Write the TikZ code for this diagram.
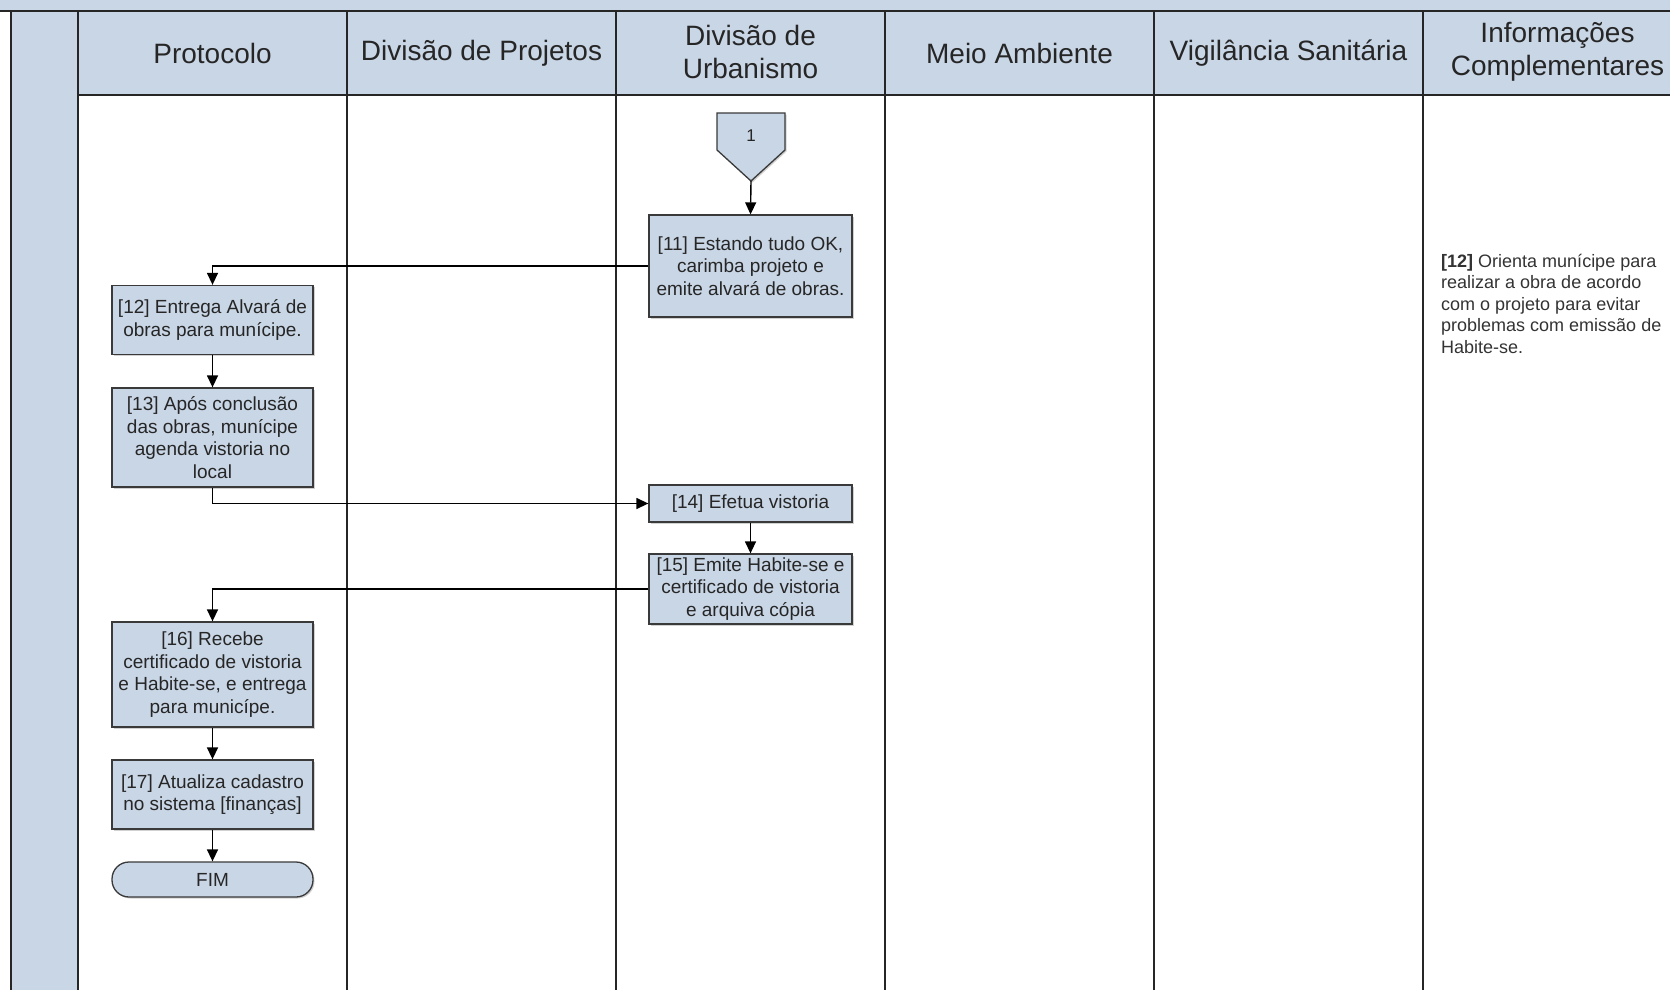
\documentclass[tikz,border=0pt]{standalone}
\usepackage{fontspec}
\setmainfont{Liberation Sans}
\usetikzlibrary{arrows.meta,shadows}
\definecolor{lanefill}{HTML}{C9D6E6}
\definecolor{boxline}{HTML}{3A3A3A}
\begin{document}
\begin{tikzpicture}[x=1pt,y=-1pt,
  laneline/.style={line width=1.6pt,black!85},
  hdr/.style={font=\fontsize{28}{33}\selectfont,align=center,inner sep=0pt,text=black!85},
  boxshadow/.style={drop shadow={shadow xshift=1.5pt,shadow yshift=-1.5pt,fill=black!30,opacity=0.6}},
  stepbox/.style={draw=boxline,fill=lanefill,line width=1.3pt,align=center,inner sep=0pt,
    font=\fontsize{19}{22.5}\selectfont,text=black!85,boxshadow},
  arr/.style={line width=1.4pt,-{Triangle[length=12pt,width=11pt]}},
  note/.style={font=\fontsize{18}{21.5}\selectfont,align=left,inner sep=0pt,text=black!80}]
\useasboundingbox (0,0) rectangle (1670,990);
% background bands
\fill[lanefill] (0,0) rectangle (1670,11);
\fill[lanefill] (11,11) rectangle (78,990);
\fill[lanefill] (78,11) rectangle (1670,95);
\draw[line width=2.6pt,black!85] (0,11) -- (1670,11);
\draw[line width=2pt,black!85] (11,11) -- (11,990);
\draw[laneline] (78,95) -- (1670,95);
\foreach \x in {78,347,616,885,1154,1423}{\draw[laneline] (\x,11) -- (\x,990);}
% headers
\node[hdr] (h1) at (212.5,53) {Protocolo};
\node[hdr] (h2) at (481.5,53) {Divisão de Projetos};
\node[hdr] (h3) at (750.5,52) {Divisão de\\Urbanismo};
\node[hdr] (h4) at (1019.5,53) {Meio Ambiente};
\node[hdr] (h5) at (1288.5,53) {Vigilância Sanitária};
\node[hdr] (h6) at (1557.5,52) {Informações\\Complementares};
% off-page connector 1
\draw[draw=boxline,fill=lanefill,line width=1.3pt,boxshadow] (717,113) -- (785,113) -- (785,150) -- (751,181) -- (717,150) -- cycle;
\node[font=\fontsize{17}{20}\selectfont,text=black!85] (c1) at (751,136) {1};
\coordinate (c1tip) at (751,181);
% steps
\node[stepbox,minimum width=203pt,minimum height=102pt] (b11) at (750.5,266) {[11] Estando tudo OK,\\carimba projeto e\\emite alvará de obras.};
\node[stepbox,minimum width=201pt,minimum height=69pt] (b12) at (212.5,320) {[12] Entrega Alvará de\\obras para munícipe.};
\node[stepbox,minimum width=201pt,minimum height=99pt] (b13) at (212.5,437.5) {[13] Após conclusão\\das obras, munícipe\\agenda vistoria no\\local};
\node[stepbox,minimum width=203pt,minimum height=37pt] (b14) at (750.5,503.5) {[14] Efetua vistoria};
\node[stepbox,minimum width=203pt,minimum height=70pt] (b15) at (750.5,589) {[15] Emite Habite-se e\\certificado de vistoria\\e arquiva cópia};
\node[stepbox,minimum width=201pt,minimum height=105pt] (b16) at (212.5,674.5) {[16] Recebe\\certificado de vistoria\\e Habite-se, e entrega\\para municípe.};
\node[stepbox,minimum width=201pt,minimum height=69pt] (b17) at (212.5,794.5) {[17] Atualiza cadastro\\no sistema [finanças]};
\node[stepbox,minimum width=201pt,minimum height=35pt,rounded corners=17pt] (fim) at (212.5,879.5) {FIM};
% note
\node[note,anchor=north west] (n12) at (1441,254) {\textbf{[12]} Orienta munícipe para\\realizar a obra de acordo\\com o projeto para evitar\\problemas com emissão de\\Habite-se.};
% connectors
\draw[arr] (c1tip) -- (b11.north);
\draw[arr] (b11.west) -| (b12.north);
\draw[arr] (b12.south) -- (b13.north);
\draw[arr] (b13.south) |- (b14.west);
\draw[arr] (b14.south) -- (b15.north);
\draw[arr] (b15.west) -| (b16.north);
\draw[arr] (b16.south) -- (b17.north);
\draw[arr] (b17.south) -- (fim.north);
\end{tikzpicture}
\end{document}
